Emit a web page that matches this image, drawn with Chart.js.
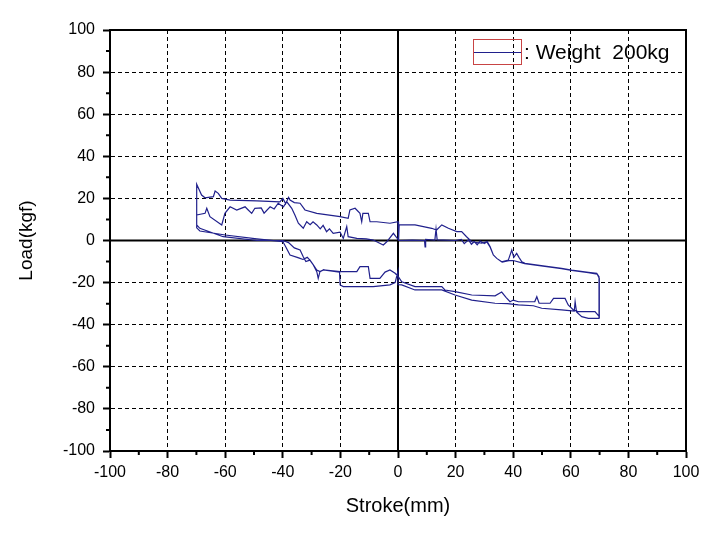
<!DOCTYPE html>
<html>
<head>
<meta charset="utf-8">
<script src="https://cdn.jsdelivr.net/npm/chart.js@4"></script>
<style>
  html, body { margin: 0; padding: 0; background: #fff; }
  canvas { display: block; }
</style>
</head>
<body>
<canvas id="loadChart" width="714" height="534"></canvas>
<script>
// axis ticks
const strokeTicks = [-100, -80, -60, -40, -20, 0, 20, 40, 60, 80, 100];
const loadTicks = [-100, -80, -60, -40, -20, 0, 20, 40, 60, 80, 100];

// inner upper branch, -70 -> +70
const upperInnerStroke = [
  -69.9, -67.0, -66.4, -65.3, -61.2, -60.1, -58.3, -56.0, -53.1, -52.0,
  -50.8, -49.7, -47.5, -46.5, -44.4, -43.0, -41.6, -39.8, -38.6, -36.9,
  -35.8, -34.6, -32.9, -31.7, -30.5, -29.5, -28.2, -27.0, -26.0, -24.8,
  -23.8, -22.5, -20.1, -19.0, -17.8, -17.3, -14.3, -11.0, -8.6, -5.1,
  -3.9, -1.6, 0.3, 5.0, 9.2, 9.4, 9.6, 12.8, 13.2, 13.6,
  20.0, 22.0, 23.0, 24.5, 25.5, 26.5, 27.5, 28.5, 30.0, 31.0,
  32.0, 33.1, 34.3, 36.0, 38.3, 39.5, 40.2, 41.2, 42.0, 43.0,
  44.1, 51.0, 56.8, 60.3, 66.1, 69.0, 69.8, 69.8
];
const upperInnerLoad = [
  12.1, 12.9, 15.3, 11.3, 7.4, 12.9, 16.0, 14.5, 16.0, 14.5,
  12.9, 15.3, 15.5, 13.0, 16.0, 15.0, 17.7, 16.0, 18.4, 15.3,
  12.1, 8.2, 5.8, 8.9, 7.5, 8.9, 7.4, 5.5, 7.2, 4.2,
  5.5, 3.4, 4.0, 1.0, 6.6, 1.8, 1.0, 0.8, 0.2, -2.1,
  -0.6, 3.4, 0.0, 0.2, 0.0, -3.0, 0.5, 0.2, 5.5, 0.3,
  0.0, 0.5, -1.5, 0.3, -1.8, -0.5, -2.0, -0.3, -1.5, -0.5,
  -3.0, -6.9, -8.5, -10.1, -9.3, -4.5, -8.0, -6.1, -8.0, -10.1,
  -10.8, -12.1, -13.2, -14.0, -15.1, -15.6, -17.2, -37.0
];

// outer lower branch, +70 -> -70
const lowerOuterStroke = [
  69.6, 66.1, 63.8, 62.0, 61.5, 61.2, 56.8, 49.9, 47.0, 41.8,
  38.0, 33.7, 25.6, 19.8, 15.2, 5.9, 1.3, 0.2, 0.0, -1.0,
  -2.8, -8.6, -19.0, -20.1, -20.3, -25.9, -27.1, -27.7, -28.2, -29.4,
  -30.6, -32.0, -32.9, -34.0, -36.0, -38.0, -40.0, -49.0, -60.7, -68.8,
  -69.9, -69.9
];
const lowerOuterLoad = [
  -37.0, -37.0, -36.2, -34.0, -29.1, -33.5, -33.0, -32.2, -31.0, -30.6,
  -30.0, -29.8, -28.3, -25.9, -23.5, -23.5, -21.1, -21.0, -14.5, -20.0,
  -21.1, -21.9, -21.9, -21.1, -15.0, -14.0, -14.8, -18.0, -14.8, -11.6,
  -9.3, -10.0, -7.7, -4.5, -3.5, -1.0, 0.0, 0.0, 1.8, 5.8,
  7.4, 26.7
];

// outer upper branch, -70 -> +70
const upperOuterStroke = [
  -68.2, -67.0, -64.1, -63.5, -62.4, -61.2, -58.3, -49.0, -41.0, -40.0,
  -39.0, -38.0, -37.5, -36.0, -34.0, -32.3, -28.2, -20.1, -17.3, -16.7,
  -14.9, -13.2, -12.6, -12.2, -10.3, -9.7, -7.4, -2.8, 0.0, 0.2,
  0.4, 5.9, 11.7, 13.4, 15.2, 17.5, 20.4, 22.1, 23.8, 25.6,
  29.1, 30.8, 31.9, 33.1, 34.3, 36.2, 38.5, 40.0, 44.0, 51.0,
  56.8, 60.3, 66.1, 69.2, 69.9, 69.9
];
const upperOuterLoad = [
  21.6, 20.3, 20.8, 23.5, 22.4, 20.0, 19.2, 18.8, 18.4, 20.0,
  17.5, 20.5, 19.2, 18.0, 17.7, 14.5, 12.9, 11.3, 10.5, 14.5,
  15.3, 12.9, 8.9, 12.9, 12.9, 8.9, 8.9, 8.2, 8.9, 0.0,
  7.4, 7.4, 5.8, 5.0, 7.4, 5.8, 4.2, 4.2, 1.8, -0.6,
  -1.3, -0.6, -2.9, -6.9, -8.5, -10.3, -9.6, -9.5, -11.0, -12.3,
  -13.4, -14.2, -15.3, -16.0, -18.0, -36.2
];

// inner lower branch, +70 -> -70
const lowerInnerStroke = [
  68.4, 62.6, 60.9, 59.1, 58.0, 54.0, 52.8, 49.0, 48.2, 47.5,
  45.2, 41.8, 40.0, 38.9, 37.5, 36.0, 33.7, 25.6, 19.8, 16.3,
  15.2, 5.9, 1.3, 0.1, -1.0, -2.8, -4.5, -6.3, -9.7, -10.3,
  -13.2, -14.3, -20.1, -25.9, -27.1, -28.2, -29.4, -30.6, -31.5, -33.0,
  -34.0, -35.0, -37.5, -39.0, -40.0, -49.0, -60.0, -68.8, -69.9, -69.9
];
const lowerInnerLoad = [
  -33.8, -33.8, -33.0, -30.6, -27.5, -27.5, -29.8, -29.8, -26.7, -29.0,
  -29.1, -29.1, -28.3, -29.1, -27.0, -24.5, -26.3, -25.9, -24.3, -23.5,
  -21.9, -21.9, -19.6, -17.2, -15.6, -14.0, -15.0, -18.0, -18.0, -12.4,
  -12.4, -14.8, -14.8, -14.0, -14.8, -14.0, -11.6, -9.3, -8.0, -9.0,
  -8.5, -8.0, -6.9, -3.0, -0.5, 0.8, 2.6, 4.5, 6.0, 12.1
];

const seriesLabel = ': Weight  200kg';
const lineColor = '#20208c';
const fontFamily = '"Liberation Sans", Arial, sans-serif';

function toPoints(xs, ys) {
  return xs.map((x, i) => ({ x: x, y: ys[i] }));
}

const loopPoints = [].concat(
  toPoints(upperInnerStroke, upperInnerLoad),
  toPoints(lowerOuterStroke, lowerOuterLoad),
  toPoints(upperOuterStroke, upperOuterLoad),
  toPoints(lowerInnerStroke, lowerInnerLoad)
);

// frame, zero lines, minor ticks and the legend
const framePlugin = {
  id: 'frame',
  beforeDatasetsDraw(chart) {
    const { ctx, chartArea: a, scales } = chart;
    const x0 = scales.x.getPixelForValue(0);
    const y0 = scales.y.getPixelForValue(0);
    ctx.save();
    ctx.strokeStyle = '#000';
    ctx.lineWidth = 2;
    ctx.beginPath();
    ctx.moveTo(a.left, y0); ctx.lineTo(a.right, y0);
    ctx.moveTo(x0, a.top); ctx.lineTo(x0, a.bottom);
    ctx.stroke();
    ctx.restore();
  },
  afterDraw(chart) {
    const { ctx, chartArea: a, scales } = chart;
    ctx.save();
    ctx.setLineDash([]);
    ctx.strokeStyle = '#000';
    ctx.lineWidth = 2;
    ctx.beginPath();
    ctx.moveTo(a.left, a.top); ctx.lineTo(a.right, a.top); ctx.lineTo(a.right, a.bottom);
    ctx.stroke();

    // minor ticks
    ctx.beginPath();
    for (let v = -90; v <= 90; v += 20) {
      const px = scales.x.getPixelForValue(v);
      ctx.moveTo(px, a.bottom); ctx.lineTo(px, a.bottom + 4);
      const py = scales.y.getPixelForValue(v);
      ctx.moveTo(a.left - 4, py); ctx.lineTo(a.left, py);
    }
    ctx.stroke();

    // legend
    const bx = Math.round(a.right) - 213, by = Math.round(a.top) + 9, bw = 48, bh = 25;
    ctx.lineWidth = 1;
    ctx.strokeStyle = '#c84444';
    ctx.strokeRect(bx + 0.5, by + 0.5, bw, bh);
    ctx.strokeStyle = lineColor;
    ctx.beginPath();
    ctx.moveTo(bx + 1, by + 13.5); ctx.lineTo(bx + bw, by + 13.5);
    ctx.stroke();
    ctx.fillStyle = '#000';
    ctx.font = '21px ' + fontFamily;
    ctx.textBaseline = 'middle';
    ctx.textAlign = 'left';
    ctx.fillText(seriesLabel, bx + bw + 3, by + 14);
    ctx.restore();
  }
};

const ctx = document.getElementById('loadChart').getContext('2d');
new Chart(ctx, {
  type: 'scatter',
  data: {
    datasets: [{
      label: seriesLabel,
      data: loopPoints,
      showLine: true,
      borderColor: lineColor,
      borderWidth: 1.2,
      pointRadius: 0,
      tension: 0,
      fill: false
    }]
  },
  options: {
    responsive: false,
    animation: false,
    layout: { padding: { top: 30, right: 28, left: 0, bottom: 0 } },
    plugins: {
      legend: { display: false },
      tooltip: { enabled: false }
    },
    scales: {
      x: {
        type: 'linear',
        min: -100, max: 100,
        afterBuildTicks: s => { s.ticks = strokeTicks.map(v => ({ value: v })); },
        ticks: { color: '#000', font: { family: fontFamily, size: 16 }, padding: 5, maxRotation: 0 },
        grid: { color: '#000', lineWidth: 1, tickLength: 7, tickColor: '#000', tickWidth: 2 },
        border: { color: '#000', width: 2, dash: [4, 3] },
        title: { display: true, text: 'Stroke(mm)', color: '#000',
                 font: { family: fontFamily, size: 20 }, padding: { top: 0, bottom: 16 } },
        afterFit: s => { s.height = 83; }
      },
      y: {
        type: 'linear',
        min: -100, max: 100,
        afterBuildTicks: s => { s.ticks = loadTicks.map(v => ({ value: v })); },
        ticks: { color: '#000', font: { family: fontFamily, size: 16 }, padding: 8 },
        grid: { color: '#000', lineWidth: 1, tickLength: 7, tickColor: '#000', tickWidth: 2 },
        border: { color: '#000', width: 2, dash: [4, 3] },
        title: { display: true, text: 'Load(kgf)', color: '#000',
                 font: { family: fontFamily, size: 19 }, padding: { top: 15, bottom: 0 } },
        afterFit: s => { s.width = 110; }
      }
    }
  },
  plugins: [framePlugin]
});
</script>
</body>
</html>
